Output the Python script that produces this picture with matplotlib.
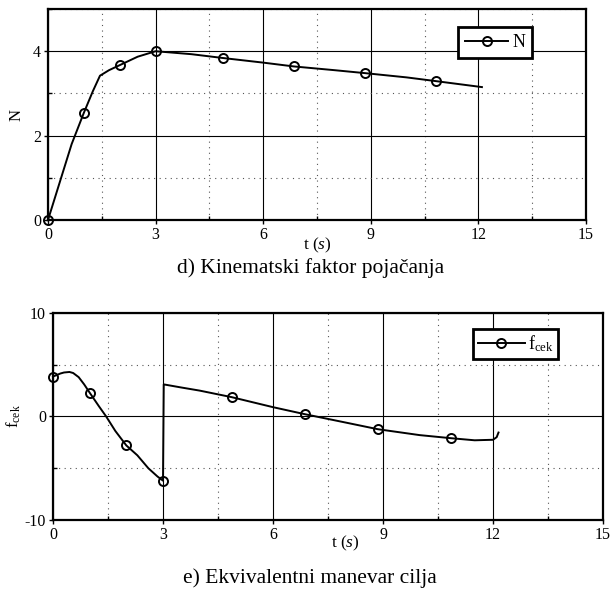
import matplotlib
matplotlib.use('Agg')
import matplotlib.pyplot as plt
from matplotlib.ticker import MultipleLocator

plt.rcParams['font.family'] = ['Liberation Serif', 'DejaVu Serif']
plt.rcParams['mathtext.fontset'] = 'custom'
plt.rcParams['mathtext.rm'] = 'Liberation Serif'
plt.rcParams['mathtext.it'] = 'Liberation Serif:italic'
plt.rcParams['axes.unicode_minus'] = False

# d) kinematic gain N(t)
t_n = [0, 0.33, 0.66, 1.0, 1.25, 1.45, 1.7, 2.0, 2.5, 3.0, 4.0, 4.87, 6.0,
       6.85, 8.0, 8.85, 10.0, 10.83, 12.1]
n_val = [0, 0.9, 1.8, 2.54, 3.05, 3.42, 3.55, 3.67, 3.87, 4.0, 3.93, 3.84,
         3.73, 3.64, 3.55, 3.48, 3.38, 3.29, 3.15]
n_marks = [0, 3, 7, 9, 11, 13, 15, 17]

# e) equivalent target manoeuvre f_cek(t)
t_f = [0, 0.1, 0.2, 0.3, 0.45, 0.55, 0.7, 0.85, 1.0, 1.25, 1.45, 1.7, 2.0,
       2.3, 2.6, 2.85, 3.0, 3.02, 3.5, 4.0, 4.87, 6.0, 6.87, 8.0, 8.86, 10.0,
       10.86, 11.5, 12.0, 12.1, 12.15]
f_val = [3.86, 4.0, 4.15, 4.25, 4.3, 4.2, 3.8, 3.1, 2.3, 1.0, 0.0, -1.4,
         -2.8, -3.75, -5.0, -5.8, -6.2, 3.1, 2.8, 2.5, 1.87, 0.9, 0.22, -0.6,
         -1.23, -1.8, -2.1, -2.3, -2.25, -2.0, -1.55]
f_marks = [0, 8, 12, 16, 20, 22, 24, 26]

x_ticks = [0, 3, 6, 9, 12, 15]


def style_axes(ax, ymin, ymax, ystep):
    ax.set_xlim(0, 15)
    ax.set_ylim(ymin, ymax)
    ax.xaxis.set_major_locator(MultipleLocator(3))
    ax.xaxis.set_minor_locator(MultipleLocator(1.5))
    ax.yaxis.set_major_locator(MultipleLocator(ystep))
    ax.yaxis.set_minor_locator(MultipleLocator(ystep / 2))
    ax.set_xticks(x_ticks)
    ax.grid(which='major', color='black', linewidth=0.8)
    ax.grid(which='minor', color='#555555', linewidth=0.8, linestyle=(0, (1, 4)))
    ax.tick_params(which='major', direction='out', length=3, width=1,
                   labelsize=11.5, pad=2)
    ax.tick_params(which='minor', direction='in', length=3, width=1)
    for s in ax.spines.values():
        s.set_linewidth(1.6)


fig = plt.figure(figsize=(6.12, 5.94), dpi=100)

ax1 = fig.add_axes([0.0784, 0.6296, 0.879, 0.3552])
ax1.plot(t_n, n_val, color='black', linewidth=1.4, marker='o', markevery=n_marks,
         markersize=6.5, markerfacecolor='none', markeredgewidth=1.4, label='N',
         clip_on=False, zorder=3)
style_axes(ax1, 0, 5, 2)
ax1.set_yticks([0, 2, 4])
ax1.set_ylabel('N', fontsize=12, labelpad=6)
leg1 = ax1.legend(loc='upper left', bbox_to_anchor=(0.762, 0.915), fontsize=13,
                  frameon=True, fancybox=False, edgecolor='black',
                  handlelength=2.4, handletextpad=0.2, borderpad=0.4,
                  borderaxespad=0)
leg1.get_frame().set_linewidth(2.0)
leg1.get_frame().set_alpha(1)

ax2 = fig.add_axes([0.0866, 0.1246, 0.8987, 0.3485])
ax2.plot(t_f, f_val, color='black', linewidth=1.4, marker='o', markevery=f_marks,
         markersize=6.5, markerfacecolor='none', markeredgewidth=1.4,
         label='f$_{\\mathregular{cek}}$', clip_on=False, zorder=3)
style_axes(ax2, -10, 10, 10)
ax2.set_yticks([-10, 0, 10])
ax2.set_ylabel('f$_{\\mathregular{cek}}$', fontsize=12, labelpad=1)
leg2 = ax2.legend(loc='upper left', bbox_to_anchor=(0.764, 0.923), fontsize=13,
                  frameon=True, fancybox=False, edgecolor='black',
                  handlelength=2.6, handletextpad=0.2, borderpad=0.25,
                  borderaxespad=0)
leg2.get_frame().set_linewidth(2.0)
leg2.get_frame().set_alpha(1)

fig.text(0.518, 0.587, 't ($\\mathit{s}$)', fontsize=12.5, ha='center', va='center')
fig.text(0.507, 0.548, 'd) Kinematski faktor pojačanja', fontsize=15.5,
         ha='center', va='center')
fig.text(0.564, 0.085, 't ($\\mathit{s}$)', fontsize=12.5, ha='center', va='center')
fig.text(0.507, 0.027, 'e) Ekvivalentni manevar cilja', fontsize=15.5,
         ha='center', va='center')

fig.savefig('out.png', dpi=100)
